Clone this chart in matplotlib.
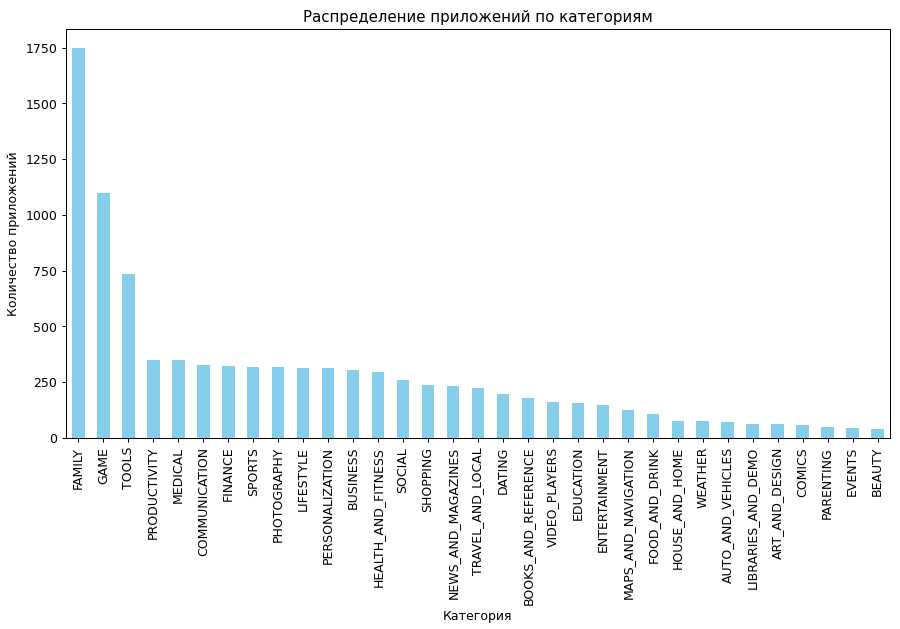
import matplotlib
matplotlib.use("Agg")
import matplotlib.pyplot as plt

# category counts
categories = [
    "FAMILY", "GAME", "TOOLS", "PRODUCTIVITY", "MEDICAL", "COMMUNICATION",
    "FINANCE", "SPORTS", "PHOTOGRAPHY", "LIFESTYLE", "PERSONALIZATION",
    "BUSINESS", "HEALTH_AND_FITNESS", "SOCIAL", "SHOPPING",
    "NEWS_AND_MAGAZINES", "TRAVEL_AND_LOCAL", "DATING", "BOOKS_AND_REFERENCE",
    "VIDEO_PLAYERS", "EDUCATION", "ENTERTAINMENT", "MAPS_AND_NAVIGATION",
    "FOOD_AND_DRINK", "HOUSE_AND_HOME", "WEATHER", "AUTO_AND_VEHICLES",
    "LIBRARIES_AND_DEMO", "ART_AND_DESIGN", "COMICS", "PARENTING", "EVENTS",
    "BEAUTY",
]
counts = [
    1747, 1097, 734, 351, 350, 328, 323, 319, 317, 314, 312, 303, 297, 259,
    238, 233, 226, 195, 178, 160, 155, 149, 124, 109, 76, 75, 73, 64, 61, 58,
    50, 45, 42,
]

fig, ax = plt.subplots(figsize=(10, 6.99), dpi=90)
xs = range(len(categories))
ax.bar(xs, counts, width=0.5, color="skyblue")
ax.set_xticks(list(xs))
ax.set_xticklabels(categories, rotation=90)
ax.set_xlim(-0.5, len(categories) - 0.5)
ax.set_title("Распределение приложений по категориям")
ax.set_xlabel("Категория")
ax.set_ylabel("Количество приложений")
fig.subplots_adjust(left=0.0733, right=0.9889, top=0.9539, bottom=0.3037)
fig.savefig("out.png", dpi=90)
